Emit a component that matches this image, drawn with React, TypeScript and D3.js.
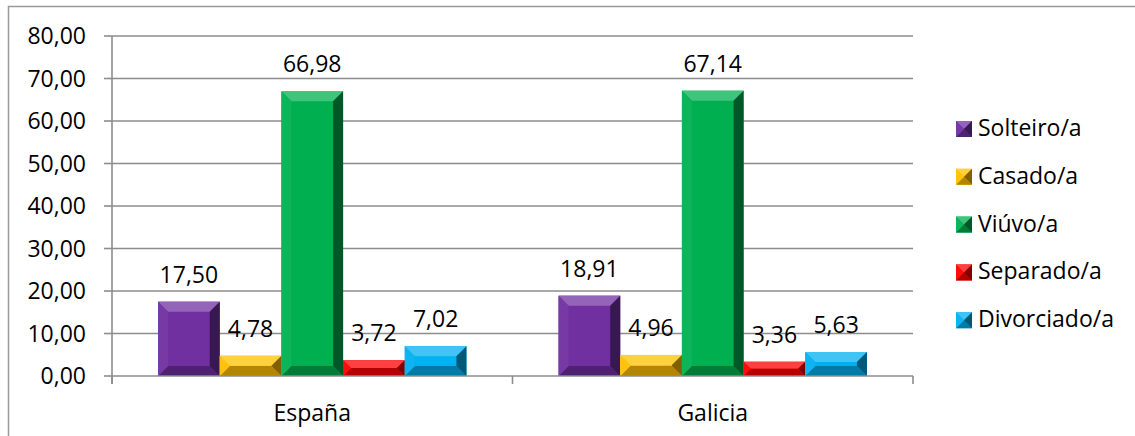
import React from "react";
import * as d3 from "d3";

const categories = ["España", "Galicia"];
const seriesNames = ["Solteiro/a", "Casado/a", "Viúvo/a", "Separado/a", "Divorciado/a"];
const espanaValues = [17.5, 4.78, 66.98, 3.72, 7.02];
const galiciaValues = [18.91, 4.96, 67.14, 3.36, 5.63];
const seriesColors = ["#7030A0", "#FFC000", "#00B050", "#FF0000", "#00B0F0"];
const yTickValues = [0, 10, 20, 30, 40, 50, 60, 70, 80];

const valuesByCategory = [espanaValues, galiciaValues];

const W = 1135;
const H = 436;
const FONT = "'Open Sans', sans-serif";
const FS = 23;

const fmt = (v: number) => d3.format(".2f")(v).replace(".", ",");

function bevelParts(x: number, y: number, w: number, h: number, b: number, base: string, key: string) {
  const light = d3.interpolateRgb(base, "#ffffff");
  const dark = d3.interpolateRgb(base, "#000000");
  const top = light(0.25);
  const left = light(0.05);
  const right = dark(0.5);
  const bottom = dark(0.3);
  const p = (pts: number[][]) => pts.map((q) => q.join(",")).join(" ");
  return (
    <g key={key}>
      <rect x={x} y={y} width={w} height={h} fill={base} />
      <polygon points={p([[x, y], [x + w, y], [x + w - b, y + b], [x + b, y + b]])} fill={top} />
      <polygon points={p([[x, y + h], [x + w, y + h], [x + w - b, y + h - b], [x + b, y + h - b]])} fill={bottom} />
      <polygon points={p([[x, y], [x + b, y + b], [x + b, y + h - b], [x, y + h]])} fill={left} />
      <polygon points={p([[x + w, y], [x + w - b, y + b], [x + w - b, y + h - b], [x + w, y + h]])} fill={right} />
    </g>
  );
}

export default function App() {
  const plotLeft = 112;
  const plotRight = 913;
  const plotTop = 36;
  const plotBottom = 376;

  const x0 = d3.scaleBand<string>().domain(categories).range([plotLeft, plotRight]).paddingInner(0).paddingOuter(0);
  const bw = x0.bandwidth();
  const outer = (46 / 400) * bw;
  const x1 = d3.scaleBand<string>().domain(seriesNames).range([outer, bw - outer]).paddingInner(0).paddingOuter(0);
  const y = d3.scaleLinear().domain([0, 80]).range([plotBottom, plotTop]);

  const gridColor = "#8c8c8c";
  const catTicks = [...categories.map((c) => x0(c) as number), plotRight];

  return (
    <svg width={W} height={H} style={{ position: "absolute", left: 0, top: 0 }} fontFamily={FONT}>
      <rect x={0} y={0} width={W} height={H} fill="#ffffff" />
      <rect x={8.5} y={6.5} width={W + 10} height={H + 10} fill="none" stroke="#999999" strokeWidth={1.5} />

      {yTickValues.map((t) => (
        <g key={"g" + t}>
          {t > 0 && (
            <line x1={plotLeft} x2={plotRight} y1={y(t)} y2={y(t)} stroke={gridColor} strokeWidth={1.6} />
          )}
          <line x1={plotLeft - 8} x2={plotLeft} y1={y(t)} y2={y(t)} stroke={gridColor} strokeWidth={1.6} />
          <text x={86} y={y(t)} dy="0.36em" textAnchor="end" fontSize={FS} fill="#000">
            {fmt(t)}
          </text>
        </g>
      ))}

      {categories.map((c, ci) =>
        valuesByCategory[ci].map((v, si) => {
          const bx = (x0(c) as number) + (x1(seriesNames[si]) as number);
          const bwid = x1.bandwidth();
          const top = y(v);
          const h = plotBottom - top;
          const b = Math.min(10, h / 2, bwid / 2);
          return bevelParts(bx, top, bwid, h, b, seriesColors[si], c + si);
        })
      )}

      <line x1={plotLeft} x2={plotLeft} y1={plotTop} y2={plotBottom + 8} stroke={gridColor} strokeWidth={1.6} />
      <line x1={plotLeft} x2={plotRight} y1={plotBottom} y2={plotBottom} stroke={gridColor} strokeWidth={1.6} />
      {catTicks.map((tx, i) => (
        <line key={"ct" + i} x1={tx} x2={tx} y1={plotBottom} y2={plotBottom + 8} stroke={gridColor} strokeWidth={1.6} />
      ))}

      {categories.map((c, ci) =>
        valuesByCategory[ci].map((v, si) => {
          const cx = (x0(c) as number) + (x1(seriesNames[si]) as number) + x1.bandwidth() / 2;
          return (
            <text key={"l" + c + si} x={cx} y={y(v) - 19} textAnchor="middle" fontSize={FS} fill="#000">
              {fmt(v)}
            </text>
          );
        })
      )}

      {categories.map((c) => (
        <text key={"c" + c} x={(x0(c) as number) + bw / 2} y={421} textAnchor="middle" fontSize={FS} fill="#000">
          {c}
        </text>
      ))}

      {seriesNames.map((s, i) => {
        const ly = 136 + i * 47.8;
        return (
          <g key={"lg" + s}>
            {bevelParts(956, ly - 15, 16, 16, 8, seriesColors[i], "lgb" + i)}
            <text x={978} y={ly} fontSize={FS} fill="#000">
              {s}
            </text>
          </g>
        );
      })}
    </svg>
  );
}
